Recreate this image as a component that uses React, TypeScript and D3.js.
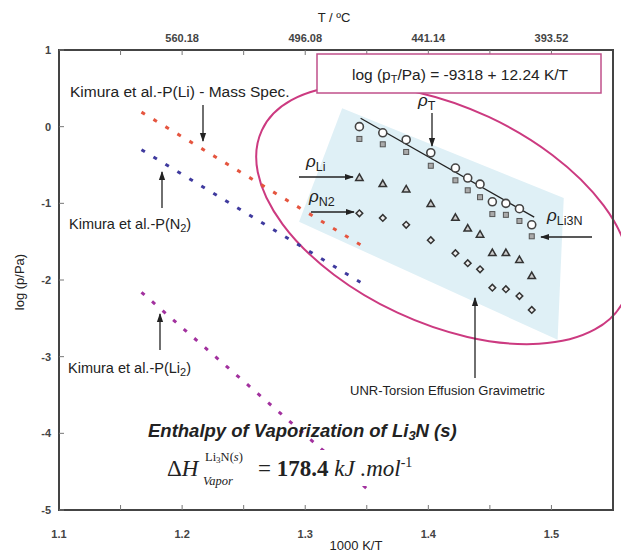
import React from "react";
import * as d3 from "d3";

// 1000 K/T for each measurement run
const invT = [1.344, 1.363, 1.382, 1.402, 1.422, 1.432, 1.442, 1.452, 1.463, 1.474, 1.484];
// log(p/Pa) series
const logPT = [0.0, -0.08, -0.17, -0.34, -0.54, -0.67, -0.75, -0.98, -1.0, -1.07, -1.28];
const logPLi3N = [-0.16, -0.23, -0.33, -0.51, -0.7, -0.83, -0.92, -1.14, -1.15, -1.23, -1.43];
const logPLi = [-0.66, -0.74, -0.81, -1.0, -1.18, -1.32, -1.4, -1.64, -1.64, -1.73, -1.94];
const logPN2 = [-1.13, -1.19, -1.28, -1.48, -1.65, -1.78, -1.86, -2.1, -2.12, -2.21, -2.39];

// Kimura et al. lines (end points)
const kimuraX = [1.167, 1.351];
const kimuraLi = [0.19, -1.6];
const kimuraN2 = [-0.3, -2.09];
const kimuraLi2X = [1.167, 1.355];
const kimuraLi2 = [-2.16, -4.79];

// fit line for p_T
const fitX = [1.345, 1.486];
const fitY = [0.11, -1.18];

const bottomTicks = [1.1, 1.2, 1.3, 1.4, 1.5];
const minorTicks = [1.15, 1.2, 1.25, 1.3, 1.35, 1.4, 1.45, 1.5];
const topTicks = [1.2, 1.3, 1.4, 1.5];
const yTicks = [1, 0, -1, -2, -3, -4, -5];

const W = 621;
const H = 553;
const FONT = "'Liberation Sans', Arial, sans-serif";
const SERIF = "'Liberation Serif', 'Times New Roman', serif";

const x = d3.scaleLinear().domain([1.1, 1.55]).range([59, 613]);
const y = d3.scaleLinear().domain([-5, 1]).range([510, 50]);

const line = d3.line<[number, number]>().x(d => x(d[0])).y(d => y(d[1]));
const pair = (xs: number[], ys: number[]) => xs.map((v, i) => [v, ys[i]] as [number, number]);

const Arrow = ({ x1, y1, x2, y2 }: { x1: number; y1: number; x2: number; y2: number }) => (
  <line x1={x1} y1={y1} x2={x2} y2={y2} stroke="#222" strokeWidth={1.3} markerEnd="url(#ah)" />
);

const Rho = ({ px, py, sub }: { px: number; py: number; sub: string }) => (
  <text x={px} y={py} fontFamily={FONT} fontSize={17} fill="#222">
    <tspan fontStyle="italic">ρ</tspan>
    <tspan fontSize={12.5} dy={4}>{sub}</tspan>
  </text>
);

export default function App() {
  const tri = d3.symbol().type(d3.symbolTriangle).size(24)();
  const dia = d3.symbol().type(d3.symbolSquare).size(22)();

  // light blue band behind the measurements
  const band = [
    [1.33, 0.24],
    [1.51, -0.93],
    [1.505, -2.78],
    [1.295, -1.24],
  ] as [number, number][];

  const ell = { cx: x(1.412), cy: y(-1.15) };

  return (
    <svg width={W} height={H} style={{ position: "absolute", left: 0, top: 0, background: "#fff" }}>
      <defs>
        <marker id="ah" viewBox="0 0 10 10" refX="9" refY="5" markerWidth="7" markerHeight="7" orient="auto">
          <path d="M0,1.5 L10,5 L0,8.5 z" fill="#222" />
        </marker>
      </defs>

      <path d={line(band) + "Z"} fill="#dff0f6" />

      {/* ellipse around UNR data */}
      <ellipse
        cx={ell.cx}
        cy={ell.cy}
        rx={200}
        ry={108}
        transform={`rotate(25 ${ell.cx} ${ell.cy})`}
        fill="none"
        stroke="#cc3a80"
        strokeWidth={2}
      />

      {/* Kimura dotted lines */}
      <path d={line(pair(kimuraX, kimuraLi))!} stroke="#e5553f" strokeWidth={3} strokeDasharray="4 10" fill="none" />
      <path d={line(pair(kimuraX, kimuraN2))!} stroke="#3f3a9e" strokeWidth={3} strokeDasharray="4 10" fill="none" />
      <path d={line(pair(kimuraLi2X, kimuraLi2))!} stroke="#a2319e" strokeWidth={3} strokeDasharray="4 10" fill="none" />

      {/* fit line */}
      <path d={line(pair(fitX, fitY))!} stroke="#222" strokeWidth={1.3} fill="none" />

      {/* markers */}
      {invT.map((v, i) => (
        <circle key={"c" + i} cx={x(v)} cy={y(logPT[i])} r={4} fill="#fff" stroke="#444" strokeWidth={1.6} />
      ))}
      {invT.map((v, i) => (
        <rect key={"s" + i} x={x(v) - 2.5} y={y(logPLi3N[i]) - 2.5} width={5} height={5} fill="#aaa" stroke="#555" strokeWidth={1} />
      ))}
      {invT.map((v, i) => (
        <path key={"t" + i} d={tri!} transform={`translate(${x(v)},${y(logPLi[i]) + 1})`} fill="#ccc" stroke="#333" strokeWidth={1.5} />
      ))}
      {invT.map((v, i) => (
        <path key={"d" + i} d={dia!} transform={`translate(${x(v)},${y(logPN2[i])}) rotate(45)`} fill="#eee" stroke="#333" strokeWidth={1.5} />
      ))}

      {/* frame */}
      <rect x={59} y={50} width={554} height={460} fill="none" stroke="#444" strokeWidth={2} />
      {minorTicks.map(t => (
        <g key={"mt" + t}>
          <line x1={x(t)} x2={x(t)} y1={510} y2={505} stroke="#777" />
          <line x1={x(t)} x2={x(t)} y1={50} y2={55} stroke="#777" />
        </g>
      ))}
      {yTicks.map(t => (
        <line key={"yt" + t} x1={59} x2={64} y1={y(t)} y2={y(t)} stroke="#777" />
      ))}

      {/* tick labels */}
      {bottomTicks.map(t => (
        <text key={"bl" + t} x={x(t)} y={538} textAnchor="middle" fontFamily={FONT} fontSize={11} fontWeight="bold" fill="#444">
          {t.toFixed(1)}
        </text>
      ))}
      {topTicks.map(t => (
        <text key={"tl" + t} x={x(t)} y={42} textAnchor="middle" fontFamily={FONT} fontSize={11} fontWeight="bold" fill="#444">
          {(1000 / t - 273.15).toFixed(2)}
        </text>
      ))}
      {yTicks.map(t => (
        <text key={"yl" + t} x={51} y={y(t) + 4} textAnchor="end" fontFamily={FONT} fontSize={11} fontWeight="bold" fill="#444">
          {t}
        </text>
      ))}

      {/* axis titles */}
      <text x={334} y={22} textAnchor="middle" fontFamily={FONT} fontSize={13} fill="#222">
        T / ºC
      </text>
      <text x={356} y={550} textAnchor="middle" fontFamily={FONT} fontSize={13} fill="#222">
        1000 K/T
      </text>
      <text transform="translate(24,282) rotate(-90)" textAnchor="middle" fontFamily={FONT} fontSize={13} fill="#222">
        log (p/Pa)
      </text>

      {/* equation box */}
      <rect x={317} y={54} width={284} height={39} fill="#fff" stroke="#c0508a" strokeWidth={1.5} />
      <text x={460} y={80} textAnchor="middle" fontFamily={FONT} fontSize={15.5} fill="#222">
        log (p<tspan fontSize={11} dy={3}>T</tspan>
        <tspan dy={-3}>/Pa) = -9318 + 12.24 K/T</tspan>
      </text>

      {/* Kimura annotations */}
      <text x={70} y={97} fontFamily={FONT} fontSize={15.5} fill="#222">
        Kimura et al.-P(Li) - Mass Spec.
      </text>
      <Arrow x1={203} y1={105} x2={203} y2={141} />
      <text x={69} y={229} fontFamily={FONT} fontSize={14.5} fill="#222">
        Kimura et al.-P(N<tspan fontSize={11} dy={3}>2</tspan>
        <tspan dy={-3}>)</tspan>
      </text>
      <Arrow x1={162} y1={208} x2={162} y2={172} />
      <text x={68} y={373} fontFamily={FONT} fontSize={14.5} fill="#222">
        Kimura et al.-P(Li<tspan fontSize={11} dy={3}>2</tspan>
        <tspan dy={-3}>)</tspan>
      </text>
      <Arrow x1={160} y1={350} x2={160} y2={314} />

      {/* UNR annotations */}
      <Rho px={418} py={106} sub="T" />
      <Arrow x1={432} y1={113} x2={432} y2={146} />
      <Rho px={306} py={167} sub="Li" />
      <Arrow x1={299} y1={177} x2={353} y2={177} />
      <Rho px={309} py={202} sub="N2" />
      <Arrow x1={311} y1={212} x2={354} y2={212} />
      <Rho px={547} py={221} sub="Li3N" />
      <Arrow x1={592} y1={237} x2={541} y2={237} />

      <text x={350} y={395} fontFamily={FONT} fontSize={13} fill="#222">
        UNR-Torsion Effusion Gravimetric
      </text>
      <Arrow x1={475} y1={378} x2={475} y2={298} />

      {/* enthalpy */}
      <text x={148} y={437} fontFamily={FONT} fontSize={18.5} fontWeight="bold" fontStyle="italic" fill="#222">
        Enthalpy of Vaporization of Li<tspan fontSize={13} dy={3}>3</tspan>
        <tspan dy={-3}>N (s)</tspan>
      </text>
      <rect x={165} y={450} width={275} height={36} fill="#fff" />
      <text x={167} y={476} fontFamily={SERIF} fontSize={23} fill="#222">
        Δ<tspan fontStyle="italic">H</tspan>
      </text>
      <text x={205} y={461} fontFamily={SERIF} fontSize={12.5} fill="#222">
        Li<tspan fontSize={9} dy={2}>3</tspan>
        <tspan dy={-2}>N(</tspan>
        <tspan fontStyle="italic">s</tspan>)
      </text>
      <text x={203} y={485} fontFamily={SERIF} fontSize={12.5} fontStyle="italic" fill="#222">
        Vapor
      </text>
      <text x={258} y={476} fontFamily={SERIF} fontSize={23} fill="#222">
        = <tspan fontWeight="bold">178.4</tspan>
        <tspan fontStyle="italic"> kJ .mol</tspan>
        <tspan fontSize={14} dy={-9}>-1</tspan>
      </text>
    </svg>
  );
}
